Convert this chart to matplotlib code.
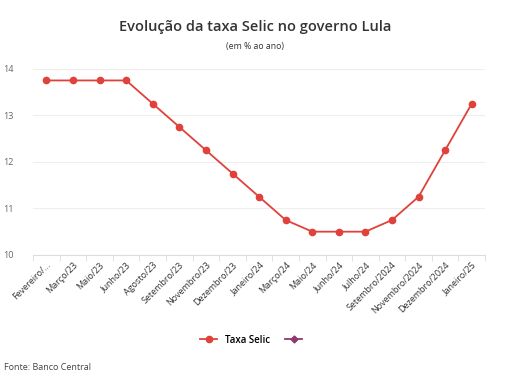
import matplotlib.pyplot as plt
from matplotlib.lines import Line2D
import numpy as np

plt.rcParams['font.family'] = ['Open Sans', 'DejaVu Sans']

meses = ['Fevereiro/...', 'Março/23', 'Maio/23', 'Junho/23', 'Agosto/23', 'Setembro/23',
         'Novembro/23', 'Dezembro/23', 'Janeiro/24', 'Março/24', 'Maio/24', 'Junho/24',
         'Julho/24', 'Setembro/2024', 'Novembro/2024', 'Dezembro/2024', 'Janeiro/25']
selic = [13.75, 13.75, 13.75, 13.75, 13.25, 12.75, 12.25, 11.75, 11.25, 10.75,
         10.5, 10.5, 10.5, 10.75, 11.25, 12.25, 13.25]

red = '#e0413a'
purple = '#8e3a6e'

fig = plt.figure(figsize=(5.1, 3.91), dpi=100)
ax = fig.add_axes([0.065, 0.348, 0.886, 0.476])

x = np.arange(len(meses))
ax.plot(x, selic, color=red, lw=1.3, marker='o', markersize=4.5, zorder=3)

ax.set_xlim(-0.5, len(meses) - 0.5)
ax.set_ylim(10, 14)
ax.set_yticks([10, 11, 12, 13, 14])
ax.grid(axis='y', color='#eeeeee', lw=0.8)
ax.set_axisbelow(True)

ax.set_xticks(x)
ax.set_xticklabels(meses, rotation=45, ha='right', rotation_mode='anchor',
                   fontsize=6.5, color='#333333')
ax.set_xticks(np.arange(-0.5, len(meses)), minor=True)
ax.tick_params(axis='x', which='major', length=0, pad=4)
ax.tick_params(axis='x', which='minor', length=4, color='#dddddd')
ax.tick_params(axis='y', length=0, labelsize=6.5, labelcolor='#666666', pad=14)

for s in ['top', 'right', 'left']:
    ax.spines[s].set_visible(False)
ax.spines['bottom'].set_color('#dddddd')

fig.text(0.5, 0.93, 'Evolução da taxa Selic no governo Lula', ha='center', va='center',
         fontsize=10.5, fontweight=600, color='#333333')
fig.text(0.5, 0.882, '(em % ao ano)', ha='center', va='center', fontsize=6.3, color='#333333')

handles = [Line2D([], [], color=red, marker='o', markersize=4.5, lw=1.3),
           Line2D([], [], color=purple, marker='D', markersize=3.5, lw=1.3)]
fig.legend(handles, ['Taxa Selic', ''], loc='center', bbox_to_anchor=(0.5, 0.13),
           ncol=2, frameon=False, handlelength=1.8, columnspacing=1.5,
           prop={'weight': 600, 'size': 7})

fig.text(0.008, 0.06, 'Fonte: Banco Central', ha='left', va='center', fontsize=6.5,
         color='#444444')

fig.savefig('out.png', dpi=100)
